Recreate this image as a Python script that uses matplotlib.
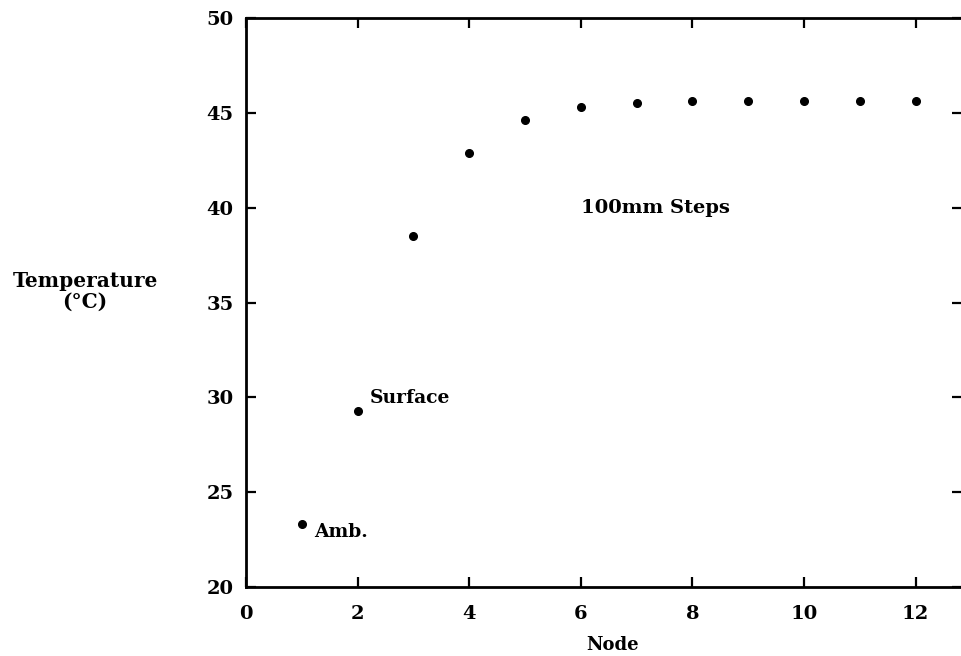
import matplotlib
matplotlib.use('Agg')
import matplotlib.pyplot as plt
import numpy as np

# data
node = [1, 2, 3, 4, 5, 6, 7, 8, 9, 10, 11, 12]
temp = [23.3, 29.3, 38.5, 42.9, 44.6, 45.3, 45.5, 45.6, 45.6, 45.6, 45.6, 45.6]

xticks = [0, 2, 4, 6, 8, 10, 12]
yticks = [20, 25, 30, 35, 40, 45, 50]

plt.rcParams['font.family'] = ['DejaVu Serif']
plt.rcParams['font.weight'] = 'bold'

fig = plt.figure(figsize=(9.62, 6.56), dpi=100)
ax = fig.add_axes([246/962, 1 - 587/656, (962 - 246)/962, 569/656])

ax.plot(node, temp, 'o', color='black', markersize=5.5)

ax.set_xlim(0, 12.83)
ax.set_ylim(20, 50)
ax.set_xticks(xticks)
ax.set_yticks(yticks)

for s in ax.spines.values():
    s.set_linewidth(2.0)

ax.tick_params(axis='both', direction='in', length=7, width=1.6,
               top=True, right=True, labelsize=14)
ax.tick_params(axis='x', pad=13)
ax.tick_params(axis='y', pad=9)

ax.text(6.0, 40.0, '100mm Steps', fontsize=14, fontweight='bold',
        ha='left', va='center')
ax.text(2.22, 29.95, 'Surface', fontsize=13.5, fontweight='bold',
        ha='left', va='center')
ax.text(1.22, 22.9, 'Amb.', fontsize=13.5, fontweight='bold',
        ha='left', va='center')

fig.text(85/962, 1 - 291/656, 'Temperature\n(°C)', fontsize=14.5,
         fontweight='bold', ha='center', va='center', linespacing=1.05)
fig.text(613/962, 1 - 645/656, 'Node', fontsize=13, fontweight='bold',
         ha='center', va='center')

fig.savefig('out.png', dpi=100)
